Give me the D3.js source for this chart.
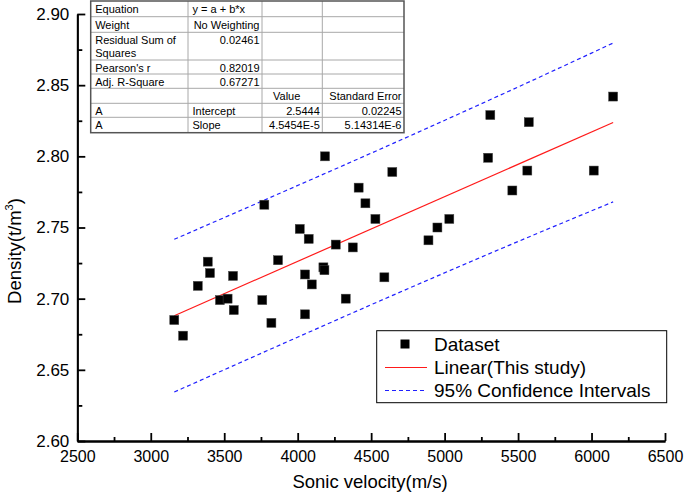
<!DOCTYPE html>
<html><head><meta charset="utf-8">
<script src="https://cdn.jsdelivr.net/npm/d3@7"></script>
<style>
body{margin:0;background:#fff}
svg{display:block}
text{font-family:Arial,"Liberation Sans",sans-serif;fill:#000}
</style>
</head><body>
<svg id="c" width="685" height="497"></svg>
<script>
// ---- data ----
const velocity = [3160, 3220, 3320, 3388, 3403, 3471, 3523, 3560, 3565, 3759, 3773, 3821, 3866, 4014, 4050, 4050, 4075, 4096, 4175, 4182, 4186, 4259, 4327, 4375, 4415, 4461, 4529, 4590, 4644, 4890, 4951, 5032, 5296, 5311, 5461, 5563, 5573, 6015, 6147];
const density  = [2.685, 2.674, 2.709, 2.726, 2.718, 2.699, 2.700, 2.716, 2.692, 2.699, 2.766, 2.683, 2.727, 2.749, 2.717, 2.689, 2.742, 2.710, 2.722, 2.720, 2.800, 2.738, 2.700, 2.736, 2.778, 2.767, 2.756, 2.715, 2.789, 2.741, 2.750, 2.756, 2.799, 2.829, 2.776, 2.790, 2.824, 2.790, 2.842];
const intercept = 2.5444;
const slope = 4.5454e-5;
const fitRange = [3160, 6147];
const bandX     = [3160, 3900, 4650, 5400, 6147];
const bandUpper = [2.7417, 2.7750, 2.8091, 2.8440, 2.8796];
const bandLower = [2.6344, 2.6684, 2.7025, 2.7358, 2.7680];
const xTicks = [2500, 3000, 3500, 4000, 4500, 5000, 5500, 6000, 6500];
const xMinor = [2750, 3250, 3750, 4250, 4750, 5250, 5750, 6250];
const yTicks = [2.60, 2.65, 2.70, 2.75, 2.80, 2.85, 2.90];
const yMinor = [2.625, 2.675, 2.725, 2.775, 2.825, 2.875];
const xTitle = "Sonic velocity(m/s)";
const yTitle = "Density(t/m";
const yTitleSup = "3";
const legendLabels = ["Dataset", "Linear(This study)", "95% Confidence Intervals"];
const tableCol0 = ["Equation", "Weight", "Residual Sum of|Squares", "Pearson's r", "Adj. R-Square", "", "A", "A"];
const tableCol1 = ["y = a + b*x", "No Weighting", "0.02461", "0.82019", "0.67271", "", "Intercept", "Slope"];
const tableCol2 = ["", "", "", "", "", "Value", "2.5444", "4.5454E-5"];
const tableCol3 = ["", "", "", "", "", "Standard Error", "0.02245", "5.14314E-6"];

// ---- drawing ----
const svg = d3.select("#c");
const x = d3.scaleLinear().domain([2500, 6500]).range([77.3, 665]);
const y = d3.scaleLinear().domain([2.60, 2.90]).range([441, 14]);

// bands
const bandLine = d3.line().x(d => x(d[0])).y(d => y(d[1])).curve(d3.curveMonotoneX);
[bandUpper, bandLower].forEach(b => {
  svg.append("path")
    .attr("d", bandLine(bandX.map((v, i) => [v, b[i]])))
    .attr("fill", "none").attr("stroke", "#2020ff").attr("stroke-width", 1.2)
    .attr("stroke-dasharray", "4,3");
});
// fit line
svg.append("line")
  .attr("x1", x(fitRange[0])).attr("y1", y(intercept + slope * fitRange[0]))
  .attr("x2", x(fitRange[1])).attr("y2", y(intercept + slope * fitRange[1]))
  .attr("stroke", "#ff1a1a").attr("stroke-width", 1.2);

// points
const sq = 9;
svg.append("g").selectAll("rect").data(velocity.map((v, i) => [v, density[i]])).join("rect")
  .attr("x", d => x(d[0]) - sq / 2).attr("y", d => y(d[1]) - sq / 2)
  .attr("width", sq).attr("height", sq)
  .attr("fill", "#000").attr("stroke", "#444").attr("stroke-width", 0.5);

// axes
const xAxis = svg.append("g").attr("transform", "translate(0,441)")
  .call(d3.axisBottom(x).tickValues(xTicks).tickFormat(d3.format("d")).tickSize(-8).tickSizeOuter(0).tickPadding(10));
const xAxisMinor = svg.append("g").attr("transform", "translate(0,441)")
  .call(d3.axisBottom(x).tickValues(xMinor).tickFormat("").tickSize(-4).tickSizeOuter(0));
const yAxis = svg.append("g").attr("transform", "translate(77.3,0)")
  .call(d3.axisLeft(y).tickValues(yTicks).tickFormat(d3.format(".2f")).tickSize(-8).tickSizeOuter(0).tickPadding(8));
const yAxisMinor = svg.append("g").attr("transform", "translate(77.3,0)")
  .call(d3.axisLeft(y).tickValues(yMinor).tickFormat("").tickSize(-5).tickSizeOuter(0));
[xAxis, xAxisMinor, yAxis, yAxisMinor].forEach(g => {
  g.selectAll("path,line").attr("stroke", "#000").attr("stroke-width", 1.8);
  g.selectAll("text").attr("font-family", "Arial, 'Liberation Sans', sans-serif").attr("fill", "#000");
});
xAxis.selectAll("text").attr("font-size", 16);
yAxis.selectAll("text").attr("font-size", 17);

// axis titles
svg.append("text").attr("x", 370).attr("y", 488).attr("text-anchor", "middle")
  .attr("font-size", 18.5).text(xTitle);
const yt = svg.append("text").attr("transform", "translate(21,251) rotate(-90)")
  .attr("text-anchor", "middle").attr("font-size", 18.5);
yt.append("tspan").text(yTitle);
yt.append("tspan").attr("font-size", 11).attr("dy", -8).text(yTitleSup);
yt.append("tspan").attr("dy", 8).text(")");

// table
const colEdges = [90.7, 188, 262, 322.3, 404];
const rowEdges = [1, 16.7, 32.3, 60, 74, 88.3, 103.3, 117.3, 132.7];
const tg = svg.append("g");
tg.append("rect").attr("x", colEdges[0]).attr("y", rowEdges[0])
  .attr("width", colEdges[4] - colEdges[0]).attr("height", rowEdges[8] - rowEdges[0])
  .attr("fill", "#fff");
colEdges.slice(1, 4).forEach(c => tg.append("line").attr("x1", c).attr("x2", c)
  .attr("y1", rowEdges[0]).attr("y2", rowEdges[8]).attr("stroke", "#a8a8a8").attr("stroke-width", 1));
rowEdges.slice(1, 8).forEach(r => tg.append("line").attr("y1", r).attr("y2", r)
  .attr("x1", colEdges[0]).attr("x2", colEdges[4]).attr("stroke", "#a8a8a8").attr("stroke-width", 1));
tg.append("rect").attr("x", colEdges[0]).attr("y", rowEdges[0])
  .attr("width", colEdges[4] - colEdges[0]).attr("height", rowEdges[8] - rowEdges[0])
  .attr("fill", "none").attr("stroke", "#555").attr("stroke-width", 1.5);

const cols = [tableCol0, tableCol1, tableCol2, tableCol3];
cols.forEach((col, ci) => {
  col.forEach((txt, ri) => {
    if (!txt) return;
    let anchor = "end";
    if (ci === 0) anchor = "start";
    if (ci === 1 && (ri === 0 || ri >= 6)) anchor = "start";
    if (ci === 2 && ri === 5) anchor = "start";
    let xp;
    if (anchor === "start") xp = colEdges[ci] + (ci === 2 ? 11 : 4.5);
    else xp = colEdges[ci + 1] - 2.5;
    const lines = txt.split("|");
    lines.forEach((ln, k) => {
      tg.append("text").attr("x", xp).attr("y", rowEdges[ri] + 11.8 + k * 13)
        .attr("text-anchor", anchor).attr("font-size", 11).text(ln);
    });
  });
});

// legend
const lg = svg.append("g");
lg.append("rect").attr("x", 376.7).attr("y", 330.7).attr("width", 290).attr("height", 72)
  .attr("fill", "#fff").attr("stroke", "#000").attr("stroke-width", 1);
const lyC = [344, 367.5, 390.5];
lg.append("rect").attr("x", 405 - 4.5).attr("y", lyC[0] - 4.5).attr("width", 9).attr("height", 9).attr("fill", "#000");
lg.append("line").attr("x1", 385).attr("x2", 427).attr("y1", lyC[1]).attr("y2", lyC[1])
  .attr("stroke", "#ff1a1a").attr("stroke-width", 1.2);
lg.append("line").attr("x1", 385).attr("x2", 427).attr("y1", lyC[2]).attr("y2", lyC[2])
  .attr("stroke", "#2020ff").attr("stroke-width", 1.2).attr("stroke-dasharray", "4,3");
legendLabels.forEach((l, i) => {
  lg.append("text").attr("x", 434).attr("y", lyC[i] + 6.8).attr("font-size", 19).text(l);
});
</script>
</body></html>
